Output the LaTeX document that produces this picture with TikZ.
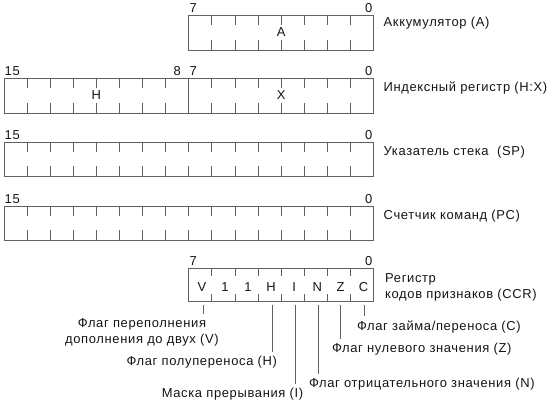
\documentclass[tikz,border=0pt]{standalone}
\usepackage{fontspec}
\setmainfont[LetterSpace=5]{Liberation Sans}
\definecolor{linegray}{RGB}{96,96,96}
\definecolor{txt}{RGB}{20,20,20}
\begin{document}
\begin{tikzpicture}[x=1bp,y=-1bp,
  regline/.style={draw=linegray,line width=1bp},
  txtlbl/.style={font=\fontsize{13}{16}\selectfont,text=txt,inner sep=0pt},
  flaglbl/.style={txtlbl,outer xsep=0pt,outer ysep=4bp},
  pinline/.style={draw=linegray,line width=1bp}]
\useasboundingbox (0,0) rectangle (549,405);
\def\cw{23.1}
% ---------- Accumulator ----------
\draw[regline] (188.8,15) rectangle (373.6,50);
\foreach \i in {1,...,7}{
  \draw[regline] (188.8+\i*\cw,15) -- ++(0,10);
  \draw[regline] (188.8+\i*\cw,50) -- ++(0,-10);}
\node[txtlbl,anchor=base west] (a7) at (189.5,12) {7};
\node[txtlbl,anchor=base east] (a0) at (372.5,12) {0};
\node[txtlbl] (aA) at (281.2,32.5) {A};
\node[txtlbl,anchor=base west] (accname) at (383.5,26.5) {Аккумулятор (A)};
% ---------- Index register ----------
\draw[regline] (4,78) rectangle (373.6,113);
\draw[regline] (188.8,78) -- (188.8,113);
\foreach \i in {1,...,7,9,10,...,15}{
  \draw[regline] (4+\i*\cw,78) -- ++(0,10);
  \draw[regline] (4+\i*\cw,113) -- ++(0,-10);}
\node[txtlbl,anchor=base west] (x15) at (4.5,75) {15};
\node[txtlbl,anchor=base east] (x8) at (181,75) {8};
\node[txtlbl,anchor=base west] (x7) at (189.5,75) {7};
\node[txtlbl,anchor=base east] (x0) at (372.5,75) {0};
\node[txtlbl] (xH) at (96.4,95.5) {H};
\node[txtlbl] (xX) at (281.2,95.5) {X};
\node[txtlbl,anchor=base west] (idxname) at (383.5,91.5) {Индексный регистр (H:X)};
% ---------- Stack pointer ----------
\draw[regline] (4,142) rectangle (373.6,176);
\foreach \i in {1,...,15}{
  \draw[regline] (4+\i*\cw,142) -- ++(0,10);
  \draw[regline] (4+\i*\cw,176) -- ++(0,-10);}
\node[txtlbl,anchor=base west] (s15) at (4.5,139) {15};
\node[txtlbl,anchor=base east] (s0) at (372.5,139) {0};
\node[txtlbl,anchor=base west] (spname) at (383.5,155.5) {Указатель стека~~(SP)};
% ---------- Program counter ----------
\draw[regline] (4,206) rectangle (373.6,240);
\foreach \i in {1,...,15}{
  \draw[regline] (4+\i*\cw,206) -- ++(0,10);
  \draw[regline] (4+\i*\cw,240) -- ++(0,-10);}
\node[txtlbl,anchor=base west] (p15) at (4.5,203) {15};
\node[txtlbl,anchor=base east] (p0) at (372.5,203) {0};
\node[txtlbl,anchor=base west] (pcname) at (383.5,219.5) {Счетчик команд (PC)};
% ---------- CCR ----------
\draw[regline] (188.8,268) rectangle (373.6,301.5);
\foreach \i in {1,...,7}{
  \draw[regline] (188.8+\i*\cw,268) -- ++(0,8);
  \draw[regline] (188.8+\i*\cw,301.5) -- ++(0,-8);}
\node[txtlbl,anchor=base west] (c7) at (189.5,265) {7};
\node[txtlbl,anchor=base east] (c0) at (372.5,265) {0};
\foreach \l [count=\k from 0] in {V,1,1,H,I,N,Z,C}{
  \node[txtlbl] (cb\k) at (188.8+\k*\cw+\cw/2+1.5,287) {\l};}
\node[txtlbl,anchor=base west] (ccrname1) at (385,282.5) {Регистр};
\node[txtlbl,anchor=base west] (ccrname2) at (385,298.5) {кодов признаков (CCR)};
% ---------- flag pins ----------
\coordinate (pV) at (203.3,305);
\coordinate (pH) at (272,305);
\coordinate (pI) at (295.5,305);
\coordinate (pN) at (318,305);
\coordinate (pZ) at (340,305);
\coordinate (pC) at (364,305);
\node[flaglbl,anchor=north,align=center] (lV) at (142,314.4) {Флаг переполнения\\дополнения до двух (V)};
\node[flaglbl,anchor=north east] (lH) at (277,352.4) {Флаг полупереноса (H)};
\node[flaglbl,anchor=north] (lI) at (232.5,384) {Маска прерывания (I)};
\node[flaglbl,anchor=north west] (lN) at (309,373.9) {Флаг отрицательного значения (N)};
\node[flaglbl,anchor=north west] (lZ) at (332,339.4) {Флаг нулевого значения (Z)};
\node[flaglbl,anchor=north west] (lC) at (357,316.4) {Флаг займа/переноса (C)};
\foreach \p/\q in {pV/lV,pH/lH,pI/lI,pN/lN,pZ/lZ,pC/lC}{
  \draw[pinline] (\p) -- (\p |- \q.north);}
\end{tikzpicture}
\end{document}
